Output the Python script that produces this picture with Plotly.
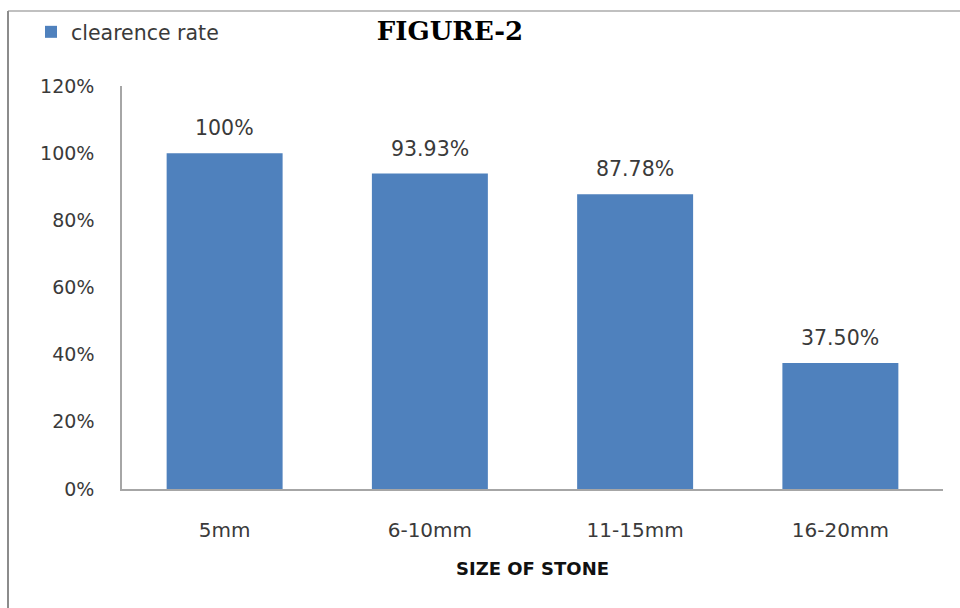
import plotly.graph_objects as go

# Stone clearance by stone size
categories = ["5mm", "6-10mm", "11-15mm", "16-20mm"]
clearance_rate = [1.00, 0.9393, 0.8778, 0.375]
value_labels = ["100%", "93.93%", "87.78%", "37.50%"]
y_ticks = [0, 0.2, 0.4, 0.6, 0.8, 1.0, 1.2]
y_tick_labels = ["0%", "20%", "40%", "60%", "80%", "100%", "120%"]

W, H = 960, 608
ML, MR, MT, MB = 122, 17, 86, 119
PW, PH = W - ML - MR, H - MT - MB

BAR = "#4F81BD"
TEXT = "#3A3A3A"
AXIS = "#A6A6A6"


def px_x(px):
    return (px - ML) / PW


def px_y(py):
    return 1 - (py - MT) / PH


fig = go.Figure()
fig.add_trace(go.Bar(
    x=categories,
    y=clearance_rate,
    name="clearence rate",
    marker=dict(color=BAR, line=dict(width=0)),
    hoverinfo="skip",
))

# value labels above each bar
for cat, val, lab in zip(categories, clearance_rate, value_labels):
    fig.add_annotation(
        x=cat, y=val, text=lab, showarrow=False,
        yanchor="bottom", yshift=11,
        font=dict(family="DejaVu Sans", size=20.5, color=TEXT),
    )

# frame lines along the top and left of the chart area
fig.add_shape(type="line", xref="paper", yref="paper",
              x0=px_x(8), x1=px_x(960), y0=px_y(11), y1=px_y(11),
              line=dict(color="#C0C0C0", width=2))
fig.add_shape(type="line", xref="paper", yref="paper",
              x0=px_x(8), x1=px_x(8), y0=px_y(11), y1=px_y(608),
              line=dict(color="#8C8C8C", width=2))

fig.update_layout(
    width=W, height=H,
    margin=dict(l=ML, r=MR, t=MT, b=MB),
    paper_bgcolor="white",
    plot_bgcolor="white",
    bargap=0.435,
    title=dict(
        text="<b>FIGURE-2</b>",
        x=450 / W, xanchor="center",
        y=1 - 31 / H, yanchor="middle",
        font=dict(family="DejaVu Serif", size=26, color="#000000"),
    ),
    showlegend=True,
    legend=dict(
        orientation="h",
        x=px_x(31), xanchor="left",
        y=px_y(32), yanchor="middle",
        font=dict(family="DejaVu Sans", size=20.5, color=TEXT),
        itemwidth=30,
        bgcolor="rgba(0,0,0,0)",
    ),
    xaxis=dict(
        showline=True, linecolor=AXIS, linewidth=1.5,
        showgrid=False, ticks="",
        tickfont=dict(family="DejaVu Sans", size=20, color=TEXT),
        ticklabelstandoff=22,
        title=dict(text="<b>SIZE OF STONE</b>", standoff=22,
                   font=dict(family="DejaVu Sans", size=18, color="#111111")),
        automargin=False,
    ),
    yaxis=dict(
        range=[0, 1.2],
        tickvals=y_ticks, ticktext=y_tick_labels,
        showline=True, linecolor=AXIS, linewidth=1.5,
        showgrid=False, zeroline=False, ticks="",
        tickfont=dict(family="DejaVu Sans", size=19, color=TEXT),
        ticklabelstandoff=22,
        automargin=False,
    ),
)

fig.write_html("out.html")
